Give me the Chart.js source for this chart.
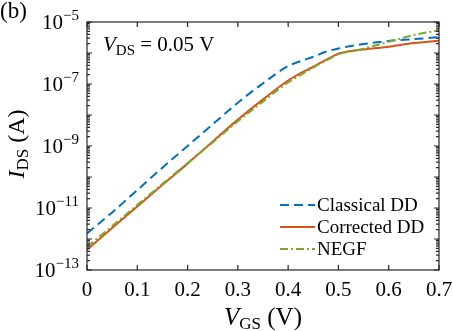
<!DOCTYPE html>
<html>
<head>
<meta charset="utf-8">
<script src="https://cdn.jsdelivr.net/npm/chart.js@4"></script>
<style>
  body { margin: 0; background: #fff; }
  #wrap { width: 453px; height: 331px; }
</style>
</head>
<body>
<div id="wrap"><canvas id="idsChart"></canvas></div>
<script>
'use strict'

// gate voltage (V)
const vgs = [0, 0.05, 0.1, 0.15, 0.2, 0.25, 0.3, 0.35, 0.4, 0.425, 0.45, 0.475, 0.5, 0.55, 0.6, 0.65, 0.7]
// drain current (A)
const classicalDD = [1.51e-12, 7.2e-12, 3.8e-11, 2.0e-10, 1.0e-9, 5.0e-9, 2.5e-8, 1.05e-7, 3.8e-7, 5.5e-7, 7.6e-7, 1.1e-6, 1.4e-6, 1.95e-6, 2.45e-6, 2.8e-6, 3.25e-6]
const correctedDD = [4.5e-13, 2.25e-12, 1.12e-11, 5.6e-11, 2.7e-10, 1.4e-9, 7.1e-9, 3.2e-8, 1.3e-7, 2.25e-7, 3.6e-7, 6.0e-7, 9.5e-7, 1.3e-6, 1.6e-6, 2.1e-6, 2.5e-6]
const negf = [5.6e-13, 2.6e-12, 1.26e-11, 6.0e-11, 2.8e-10, 1.3e-9, 6.3e-9, 2.7e-8, 1.12e-7, 1.95e-7, 3.4e-7, 5.6e-7, 9.1e-7, 1.38e-6, 2.3e-6, 3.8e-6, 5.4e-6]

const xTicks = [0, 0.1, 0.2, 0.3, 0.4, 0.5, 0.6, 0.7]
const xTickLabels = ['0', '0.1', '0.2', '0.3', '0.4', '0.5', '0.6', '0.7']
const yExponents = [-13, -12, -11, -10, -9, -8, -7, -6, -5]
const yLabelExponents = [-13, -11, -9, -7, -5]
const seriesNames = ['Classical DD', 'Corrected DD', 'NEGF']

const BLUE = '#0072BD'
const ORANGE = '#D95319'
const GREEN = '#77AC30'
const AXIS = '#262626'
const SERIF = '"Liberation Serif", "DejaVu Serif", serif'

const toPoints = (ys) => vgs.map((v, i) => ({ x: v, y: ys[i] }))

// draws a run of text pieces (for subscripts / superscripts)
function richText (ctx, parts, x, y, align) {
  let total = 0
  parts.forEach((p) => { ctx.font = p.font; total += ctx.measureText(p.text).width })
  let cx = align === 'center' ? x - total / 2 : align === 'right' ? x - total : x
  parts.forEach((p) => {
    ctx.font = p.font
    ctx.fillText(p.text, cx, y + (p.dy || 0))
    cx += ctx.measureText(p.text).width
  })
}

const decorations = {
  id: 'decorations',
  afterDraw (chart) {
    const ctx = chart.ctx
    const { left, right, top, bottom } = chart.chartArea
    const xs = chart.scales.x
    const ys = chart.scales.y
    ctx.save()
    ctx.strokeStyle = AXIS
    ctx.fillStyle = '#000'
    ctx.lineWidth = 1.2

    // box
    ctx.strokeRect(left, top, right - left, bottom - top)

    // x ticks, inward on bottom and top
    ctx.beginPath()
    xTicks.forEach((v) => {
      const px = xs.getPixelForValue(v)
      ctx.moveTo(px, bottom); ctx.lineTo(px, bottom - 5)
      ctx.moveTo(px, top); ctx.lineTo(px, top + 5)
    })
    // y major + minor ticks, both sides
    yExponents.forEach((e) => {
      const py = ys.getPixelForValue(Math.pow(10, e))
      ctx.moveTo(left, py); ctx.lineTo(left + 5, py)
      ctx.moveTo(right, py); ctx.lineTo(right - 5, py)
      if (e < -5) {
        for (let m = 2; m < 10; m++) {
          const pm = ys.getPixelForValue(m * Math.pow(10, e))
          ctx.moveTo(left, pm); ctx.lineTo(left + 3, pm)
          ctx.moveTo(right, pm); ctx.lineTo(right - 3, pm)
        }
      }
    })
    ctx.stroke()

    // tick labels
    ctx.textBaseline = 'alphabetic'
    ctx.textAlign = 'left'
    xTicks.forEach((v, i) => {
      richText(ctx, [{ text: xTickLabels[i], font: '21px ' + SERIF }], xs.getPixelForValue(v), 296, 'center')
    })
    yLabelExponents.forEach((e) => {
      const py = ys.getPixelForValue(Math.pow(10, e))
      richText(ctx, [
        { text: '10', font: '21px ' + SERIF, dy: 7 },
        { text: '\u2212' + Math.abs(e), font: '15px ' + SERIF, dy: -2 }
      ], 79, py, 'right')
    })

    // axis titles
    richText(ctx, [
      { text: 'V', font: 'italic 25px ' + SERIF },
      { text: 'GS', font: '17px ' + SERIF, dy: 4 },
      { text: ' (V)', font: '25px ' + SERIF }
    ], (left + right) / 2, 325, 'center')
    ctx.save()
    ctx.translate(24, 144)
    ctx.rotate(-Math.PI / 2)
    richText(ctx, [
      { text: 'I', font: 'italic 24px ' + SERIF },
      { text: 'DS', font: '17px ' + SERIF, dy: 4 },
      { text: ' (A)', font: '24px ' + SERIF }
    ], 0, 0, 'center')
    ctx.restore()

    // panel tag and bias note
    richText(ctx, [{ text: '(b)', font: '23px ' + SERIF }], 0, 18, 'left')
    richText(ctx, [
      { text: 'V', font: 'italic 21px ' + SERIF },
      { text: 'DS', font: '15px ' + SERIF, dy: 4 },
      { text: ' = 0.05 V', font: '21px ' + SERIF }
    ], 103, 51, 'left')

    // legend
    const colors = [BLUE, ORANGE, GREEN]
    const dashes = [[9, 5], [], [8, 3, 2, 3]]
    seriesNames.forEach((name, i) => {
      const ly = 205 + i * 22
      ctx.strokeStyle = colors[i]
      ctx.lineWidth = 2
      ctx.setLineDash(dashes[i])
      ctx.beginPath(); ctx.moveTo(280, ly); ctx.lineTo(315, ly); ctx.stroke()
      ctx.setLineDash([])
      richText(ctx, [{ text: name, font: '19px ' + SERIF }], 317, ly + 6, 'left')
    })
    ctx.restore()
  }
}

const ctx = document.getElementById('idsChart').getContext('2d')
const chart = new Chart(ctx, {
  type: 'line',
  data: {
    datasets: [
      {
        label: seriesNames[0],
        data: toPoints(classicalDD),
        borderColor: BLUE,
        borderDash: [9, 5],
        order: 2
      },
      {
        label: seriesNames[1],
        data: toPoints(correctedDD),
        borderColor: ORANGE,
        order: 1
      },
      {
        label: seriesNames[2],
        data: toPoints(negf),
        borderColor: GREEN,
        borderDash: [8, 3, 2, 3],
        order: 0
      }
    ]
  },
  options: {
    responsive: true,
    maintainAspectRatio: false,
    animation: false,
    datasets: {
      line: { borderWidth: 2, pointRadius: 0, fill: false, cubicInterpolationMode: 'monotone' }
    },
    layout: { padding: { left: 87, top: 22, right: 14, bottom: 61 } },
    scales: {
      x: { type: 'linear', min: 0, max: 0.7, display: false },
      y: { type: 'logarithmic', min: 1e-13, max: 1e-5, display: false }
    },
    plugins: {
      legend: { display: false },
      tooltip: { enabled: false }
    }
  },
  plugins: [decorations]
})
</script>
</body>
</html>
